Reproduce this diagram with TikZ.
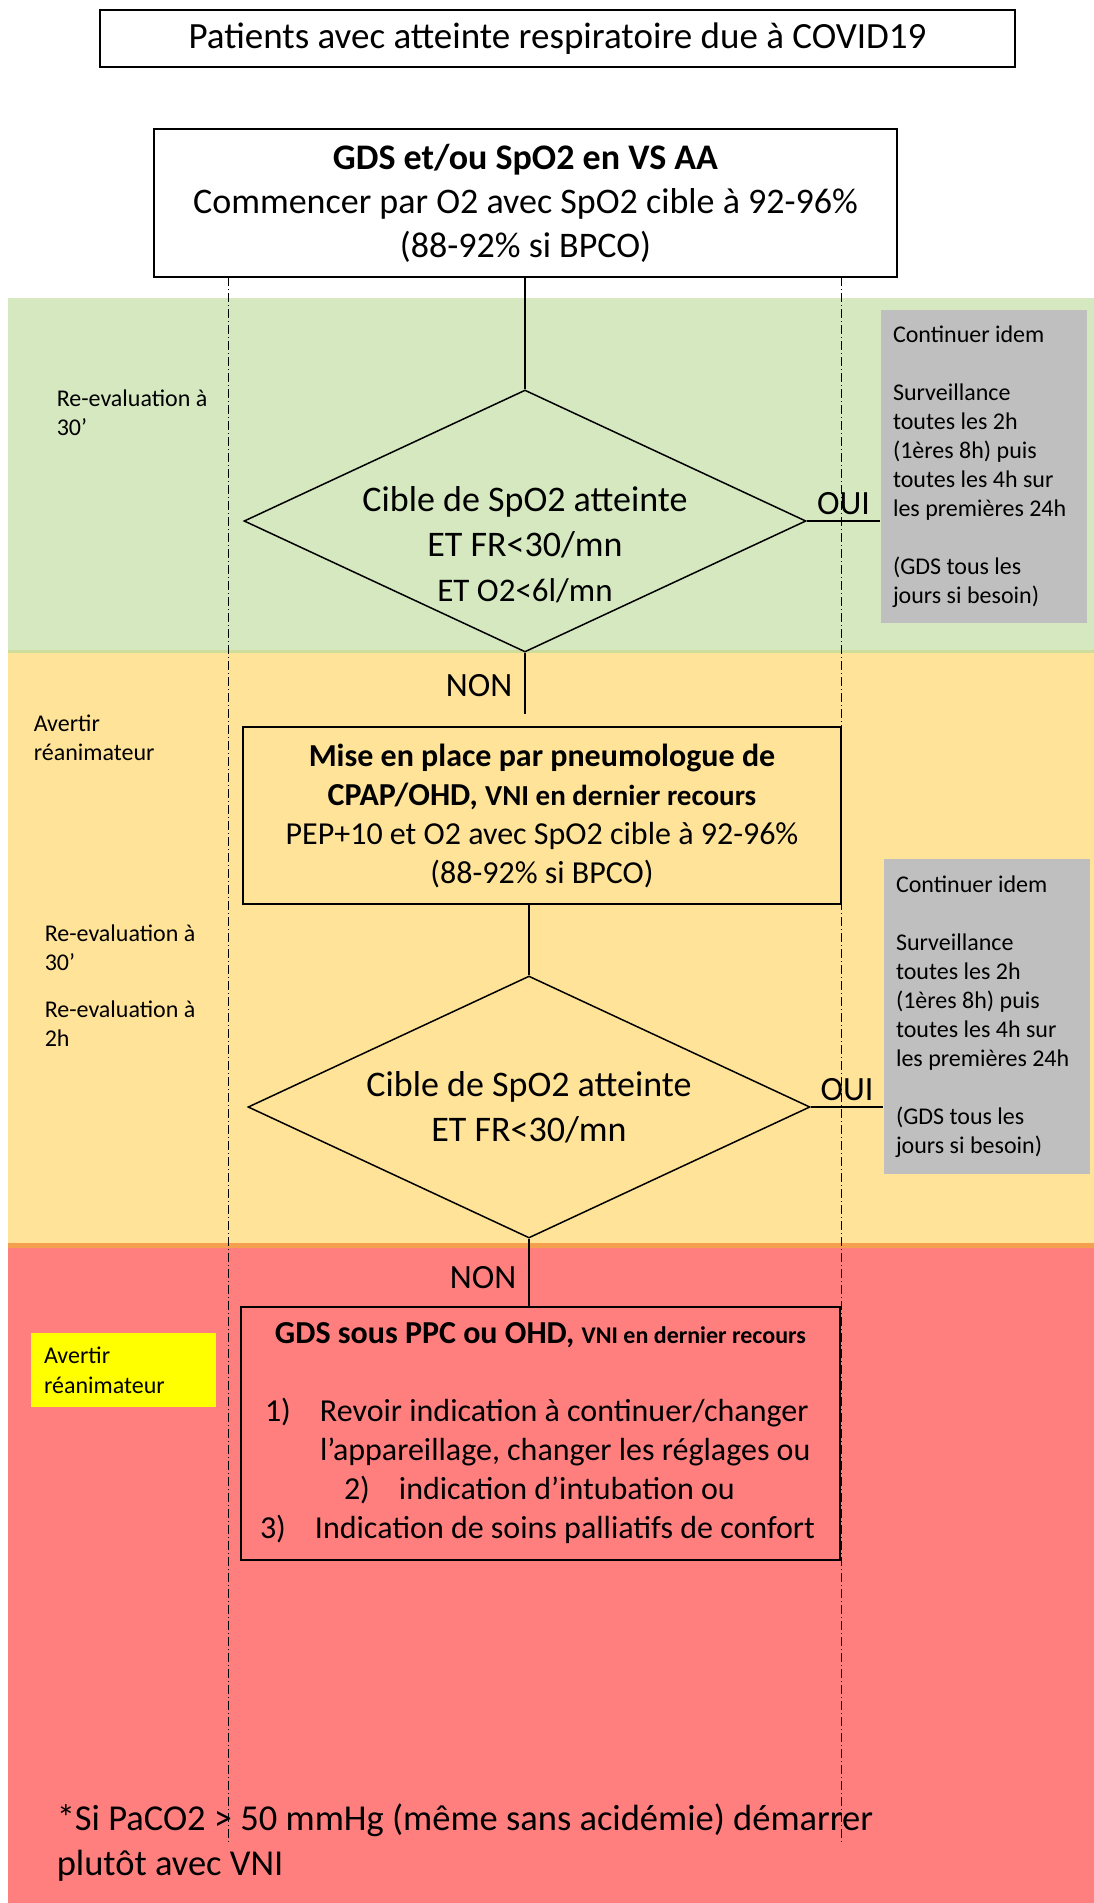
\documentclass[tikz,border=0pt]{standalone}
\usepackage{fontspec}
\setmainfont{Carlito}
\usepackage{tikz}
\usetikzlibrary{shapes.geometric,positioning}

\definecolor{bandgreen}{HTML}{D5E8C0}
\definecolor{bandgreenline}{HTML}{CEDC9C}
\definecolor{bandyellow}{HTML}{FFE399}
\definecolor{bandorange}{HTML}{F5A04F}
\definecolor{bandred}{HTML}{FF7F7F}
\definecolor{greybox}{HTML}{BFBFBF}
\definecolor{alertyellow}{HTML}{FFFF00}

\newcommand{\fsz}[2]{\fontsize{#1}{#2}\selectfont}

\begin{document}
\begin{tikzpicture}[x=1pt,y=-1pt,line width=1.5pt]
		\tikzstyle{box}=[draw,rectangle,inner sep=0pt,align=center]
		\tikzstyle{choice}=[draw,diamond,inner sep=0pt,minimum width=562pt,minimum height=262pt]
		\tikzstyle{greynote}=[fill=greybox,rectangle,inner xsep=12pt,inner ysep=0pt,align=flush left,
			text width=182pt,minimum width=206pt,font=\fsz{24}{29}]
		\tikzstyle{side}=[anchor=west,align=flush left,inner sep=0pt,font=\fsz{24}{29}]
		\tikzstyle{answer}=[font=\fsz{34}{40},inner sep=0pt]

		\useasboundingbox (0,0) rectangle (1094,1903);

		% coloured bands
		\fill[bandgreen] (8,298) rectangle (1094,652);
		\fill[bandyellow] (8,652) rectangle (1094,1245);
		\fill[bandred] (8,1245) rectangle (1094,1903);
		\draw[bandgreenline,line width=3pt] (8,651) -- (1094,651);
		\draw[bandorange,line width=5pt] (8,1245.5) -- (1094,1245.5);

		% guide lines
		\coordinate (gl) at (228,277);
		\coordinate (gr) at (841,277);
		\draw[line width=0.6pt,dash pattern=on 9pt off 3pt on 1pt off 3pt] (gl) -- ++(0,1568);
		\draw[line width=0.6pt,dash pattern=on 9pt off 3pt on 1pt off 3pt] (gr) -- ++(0,1568);

		\node[box,minimum width=915pt,minimum height=57pt,font=\fsz{37}{44}] (title) at (557.5,38.5)
			{Patients avec atteinte respiratoire due à COVID19};

		\node[box,fill=white,minimum width=743pt,minimum height=148pt,font=\fsz{36}{44}] (start) at (525.5,203)
			{\textbf{GDS et/ou SpO2 en VS AA}\\Commencer par O2 avec SpO2 cible à 92-96\%\\(88-92\% si BPCO)};

		\node[choice,label={[yshift=-24pt,align=center,font=\fsz{36}{45}]center:Cible de SpO2 atteinte\\ET FR<30/mn\\{\fsz{33}{45}ET O2<6l/mn}}] (check1) at (525,521) {};

		\node[greynote,minimum height=313pt] (same1) at (984,466.5)
			{Continuer idem\\[29pt]Surveillance\\toutes les 2h\\(1ères 8h) puis\\toutes les 4h sur\\les premières 24h\\[29pt](GDS tous les\\jours si besoin)};

		\node[box,minimum width=598pt,minimum height=177pt,font=\fsz{32}{39}] (cpap) at (542,815.5)
			{\textbf{Mise en place par pneumologue de}\\\textbf{CPAP/OHD, {\fsz{29}{39}VNI en dernier recours}}\\PEP+10 et O2 avec SpO2 cible à 92-96\%\\(88-92\% si BPCO)};

		\node[choice,label={[align=center,font=\fsz{36}{45}]center:Cible de SpO2 atteinte\\ET FR<30/mn}] (check2) at (529,1107) {};

		\node[greynote,minimum height=315pt] (same2) at (987,1016.5)
			{Continuer idem\\[29pt]Surveillance\\toutes les 2h\\(1ères 8h) puis\\toutes les 4h sur\\les premières 24h\\[29pt](GDS tous les\\jours si besoin)};

		\node[box,align=flush left,text width=599pt,minimum height=253pt,font=\fsz{32}{39}] (gds) at (540.5,1433.5)
			{\makebox[599pt][c]{\textbf{GDS sous PPC ou OHD, {\fsz{24}{39}VNI en dernier recours}}}\\[39pt]
			\hspace*{24pt}\makebox[55pt][l]{1)}Revoir indication à continuer/changer\\
			\hspace*{79pt}l’appareillage, changer les réglages ou\\
			\hspace*{103pt}\makebox[55pt][l]{2)}indication d’intubation ou\\
			\hspace*{19pt}\makebox[55pt][l]{3)}Indication de soins palliatifs de confort};

		% side notes
		\node[side] (reeval1) at (56,412.5) {Re-evaluation à\\30’};
		\node[side] (warn1) at (33,738) {Avertir\\réanimateur};
		\node[side] (reeval2) at (44,948) {Re-evaluation à\\30’};
		\node[side] (reeval3) at (44,1023.5) {Re-evaluation à\\2h};
		\node[fill=alertyellow,rectangle,inner xsep=13pt,inner ysep=0pt,text width=159pt,
			minimum height=74pt,align=flush left,font=\fsz{24}{30}] (warn2) at (123.5,1370) {Avertir\\réanimateur};
		\node[anchor=west,align=flush left,inner sep=0pt,font=\fsz{36.5}{45}] (note) at (56,1842.5)
			{*Si PaCO2 > 50 mmHg (même sans acidémie) démarrer\\plutôt avec VNI};

		% connectors
		\draw (start.south -| check1.north) -- (check1.north);
		\draw (check1.east) -- (check1.east -| same1.west) node[answer,midway,above=6pt] {OUI};
		\draw[shorten >=12pt] (check1.south) -- (check1.south |- cpap.north) node[answer,pos=0.45,left=12pt] {NON};
		\draw (check2.north |- cpap.south) -- (check2.north);
		\draw (check2.east) -- (check2.east -| same2.west) node[answer,midway,above=6pt] {OUI};
		\draw (check2.south) -- (check2.south |- gds.north) node[answer,pos=0.57,left=12pt] {NON};
	\end{tikzpicture}
\end{document}
